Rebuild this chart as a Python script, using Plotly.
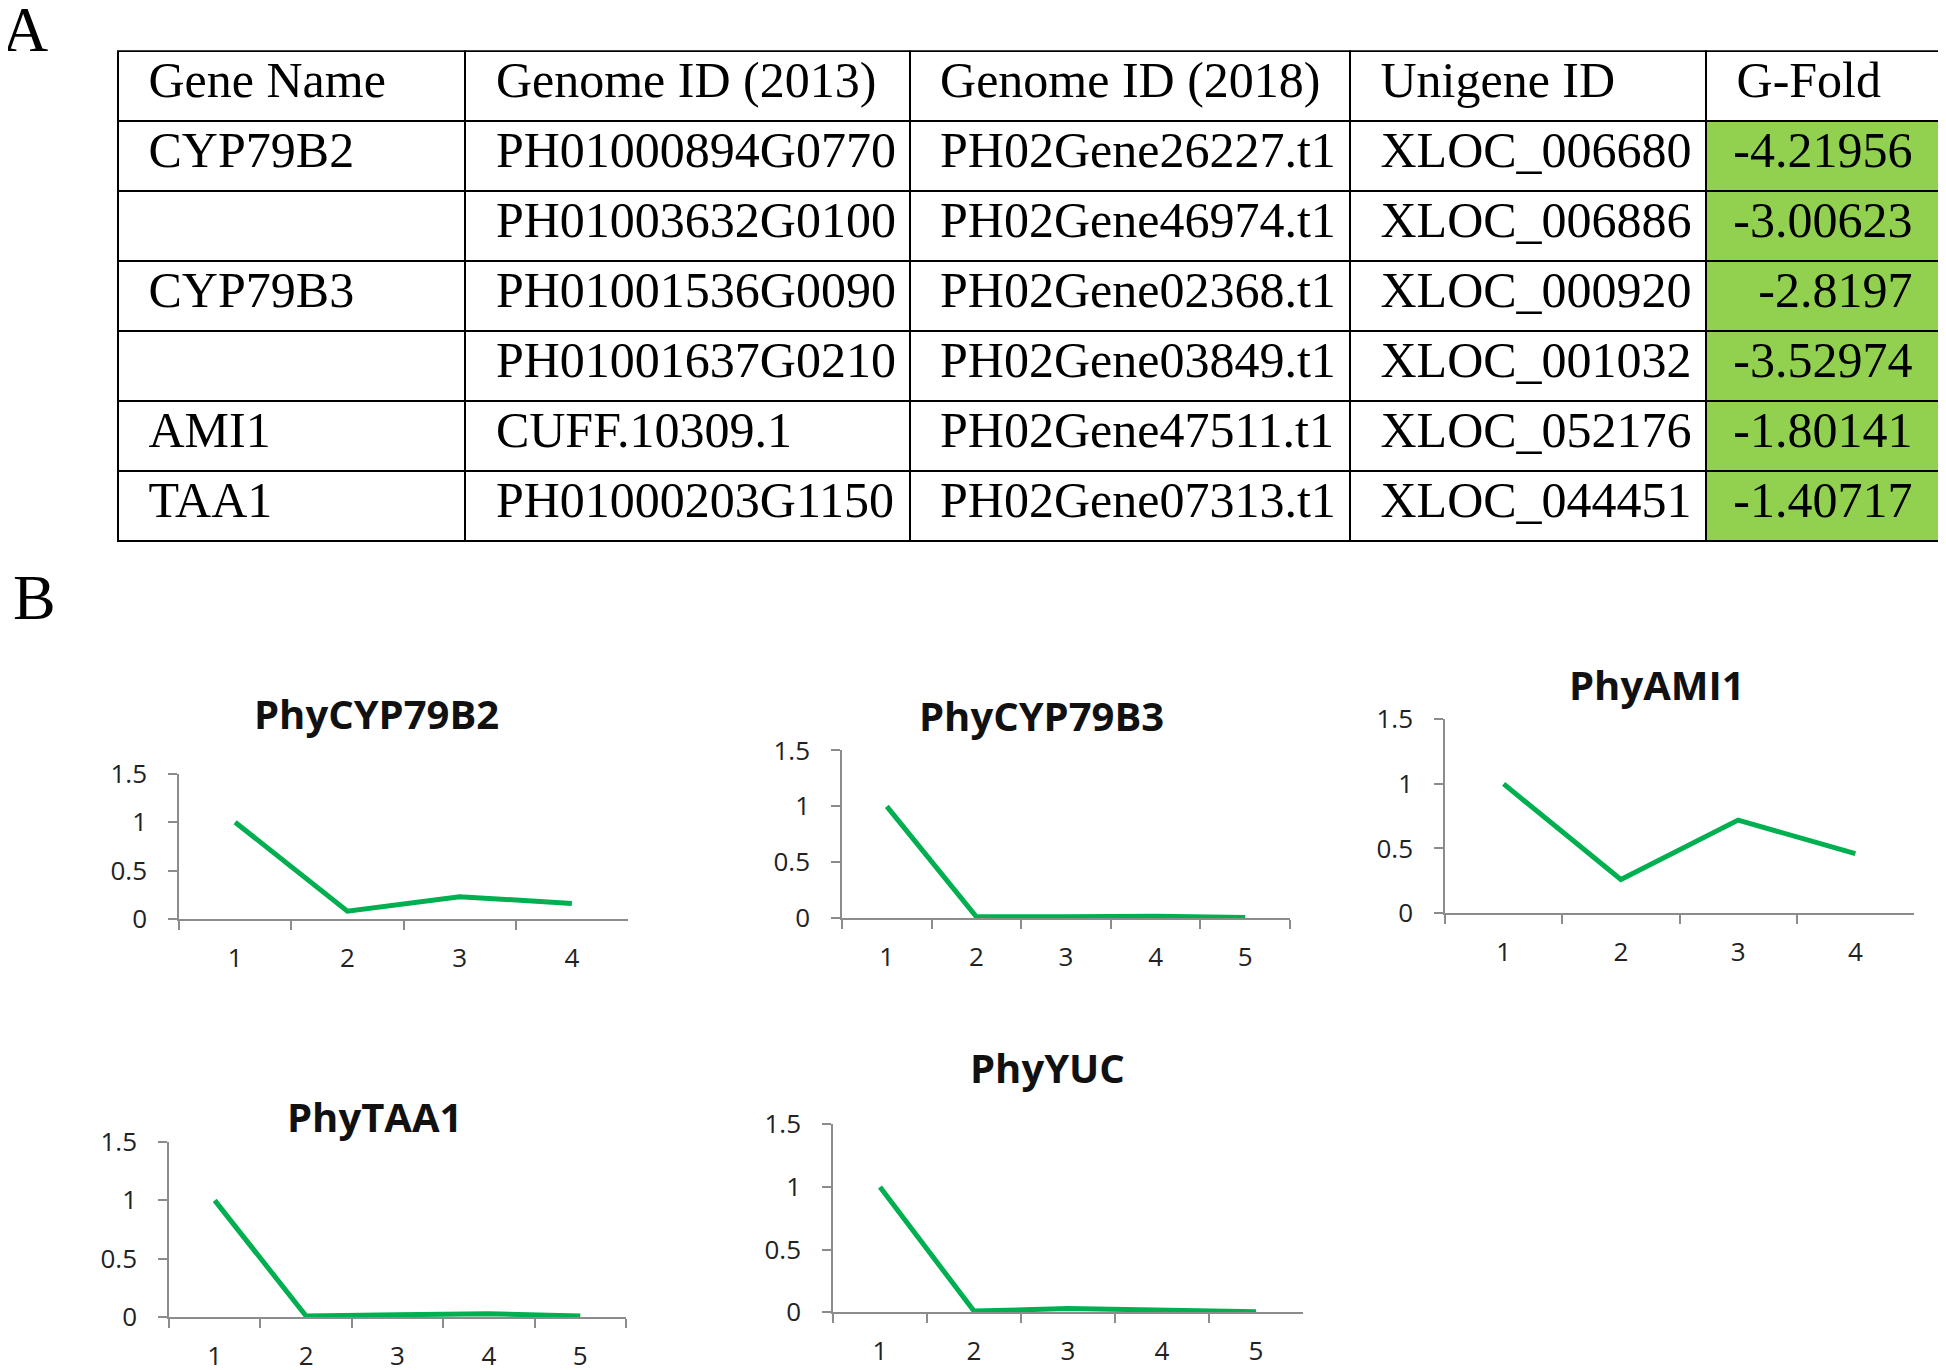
import plotly.graph_objects as go

W, H = 1946, 1370

# ---------------- Table data (panel A) ----------------
header_labels = ["Gene Name", "Genome ID (2013)", "Genome ID (2018)", "Unigene ID", "G-Fold"]
gene_names = ["CYP79B2", "", "CYP79B3", "", "AMI1", "TAA1"]
genome_2013 = ["PH01000894G0770", "PH01003632G0100", "PH01001536G0090",
               "PH01001637G0210", "CUFF.10309.1", "PH01000203G1150"]
genome_2018 = ["PH02Gene26227.t1", "PH02Gene46974.t1", "PH02Gene02368.t1",
               "PH02Gene03849.t1", "PH02Gene47511.t1", "PH02Gene07313.t1"]
unigene_ids = ["XLOC_006680", "XLOC_006886", "XLOC_000920",
               "XLOC_001032", "XLOC_052176", "XLOC_044451"]
g_fold = [-4.21956, -3.00623, -2.8197, -3.52974, -1.80141, -1.40717]

# ---------------- Line chart data (panel B) ----------------
cyp79b2_x = ["1", "2", "3", "4"]
cyp79b2_y = [1.0, 0.08, 0.23, 0.16]
cyp79b3_x = ["1", "2", "3", "4", "5"]
cyp79b3_y = [1.0, 0.01, 0.01, 0.015, 0.005]
ami1_x = ["1", "2", "3", "4"]
ami1_y = [1.0, 0.26, 0.72, 0.46]
taa1_x = ["1", "2", "3", "4", "5"]
taa1_y = [1.0, 0.01, 0.02, 0.03, 0.01]
yuc_x = ["1", "2", "3", "4", "5"]
yuc_y = [1.0, 0.01, 0.03, 0.015, 0.005]

y_tick_vals = [0, 0.5, 1, 1.5]
y_tick_text = ["0", "0.5", "1", "1.5"]

fig = go.Figure()

# ---------------- Table ----------------
pad = "\u00a0\u2009"
def lp(lst):
    return [pad + s for s in lst]

gfold_text = [str(v) + pad for v in g_fold]
col_w = [280, 358, 355, 287, 191]
fig.add_trace(go.Table(
    domain=dict(x=[110 / W, 1935 / W], y=[1 - 595 / H, 1 - 25 / H]),
    columnwidth=col_w,
    header=dict(
        values=[pad + h for h in header_labels],
        align="left",
        height=70,
        fill_color="white",
        line=dict(color="black", width=2),
        font=dict(family="Liberation Serif", size=50, color="black"),
    ),
    cells=dict(
        values=[lp(gene_names), lp(genome_2013), lp(genome_2018), lp(unigene_ids), gfold_text],
        align=["left", "left", "left", "left", "right"],
        height=70,
        fill_color=["white", "white", "white", "white", "#92D050"],
        line=dict(color="black", width=2),
        font=dict(family="Liberation Serif", size=50, color="black"),
    ),
))

# ---------------- Charts ----------------
# (title, x, y, x-domain px, y-domain px (top, zero), title centre px (x, y))
charts = [
    ("PhyCYP79B2", cyp79b2_x, cyp79b2_y, (171, 620), (767, 916), (368, 705)),
    ("PhyCYP79B3", cyp79b3_x, cyp79b3_y, (834, 1282), (743, 915), (1033, 707)),
    ("PhyAMI1", ami1_x, ami1_y, (1437, 1906), (711, 910), (1649, 675)),
    ("PhyTAA1", taa1_x, taa1_y, (161, 618), (1145, 1325), (366, 1119)),
    ("PhyYUC", yuc_x, yuc_y, (825, 1295), (1127, 1320), (1039, 1069)),
]

axis_color = "#8c8c8c"
tick_font = dict(family="Open Sans", size=26, color="#222222")

for i, (title, xs, ys, (x0, x1), (ytop, y0), (tx, ty)) in enumerate(charts, start=1):
    suffix = "" if i == 1 else str(i)
    fig.add_trace(go.Scatter(
        x=xs, y=ys, mode="lines",
        line=dict(color="#00B050", width=5),
        xaxis="x" + suffix, yaxis="y" + suffix,
        showlegend=False, hoverinfo="x+y",
    ))
    fig.update_layout(**{
        "xaxis" + suffix: dict(
            domain=[x0 / W, x1 / W], anchor="y" + suffix, type="category",
            range=[-0.5, len(xs) - 0.5],
            showline=True, linecolor=axis_color, linewidth=1.5,
            ticks="outside", tickson="boundaries", ticklen=9, tickcolor=axis_color,
            tickwidth=1.5, showgrid=False, zeroline=False, tickfont=tick_font,
            ticklabelstandoff=15, fixedrange=True,
        ),
        "yaxis" + suffix: dict(
            domain=[1 - y0 / H, 1 - ytop / H], anchor="x" + suffix,
            range=[0, 1.5], tickvals=y_tick_vals, ticktext=y_tick_text,
            showline=True, linecolor=axis_color, linewidth=1.5,
            ticks="outside", ticklen=9, tickcolor=axis_color, tickwidth=1.5,
            showgrid=False, zeroline=False, tickfont=tick_font,
            ticklabelstandoff=16, fixedrange=True,
        ),
    })
    fig.add_annotation(
        x=tx / W, y=1 - ty / H, xref="paper", yref="paper",
        text="<b>" + title + "</b>", showarrow=False,
        font=dict(family="Open Sans", size=40, color="#111111"),
        xanchor="center", yanchor="middle",
    )

# Panel letters
fig.add_annotation(x=0, y=1 + 36 / H, xref="paper", yref="paper", text="A",
                   showarrow=False, xanchor="left", yanchor="top", xshift=-8,
                   font=dict(family="Liberation Serif", size=64, color="black"))
fig.add_annotation(x=0, y=1 - 547 / H, xref="paper", yref="paper", text="B",
                   showarrow=False, xanchor="left", yanchor="top", xshift=3,
                   font=dict(family="Liberation Serif", size=64, color="black"))

fig.update_layout(
    width=W, height=H,
    margin=dict(l=0, r=0, t=0, b=0),
    paper_bgcolor="white", plot_bgcolor="white",
    showlegend=False,
)

fig.write_html("out.html")
